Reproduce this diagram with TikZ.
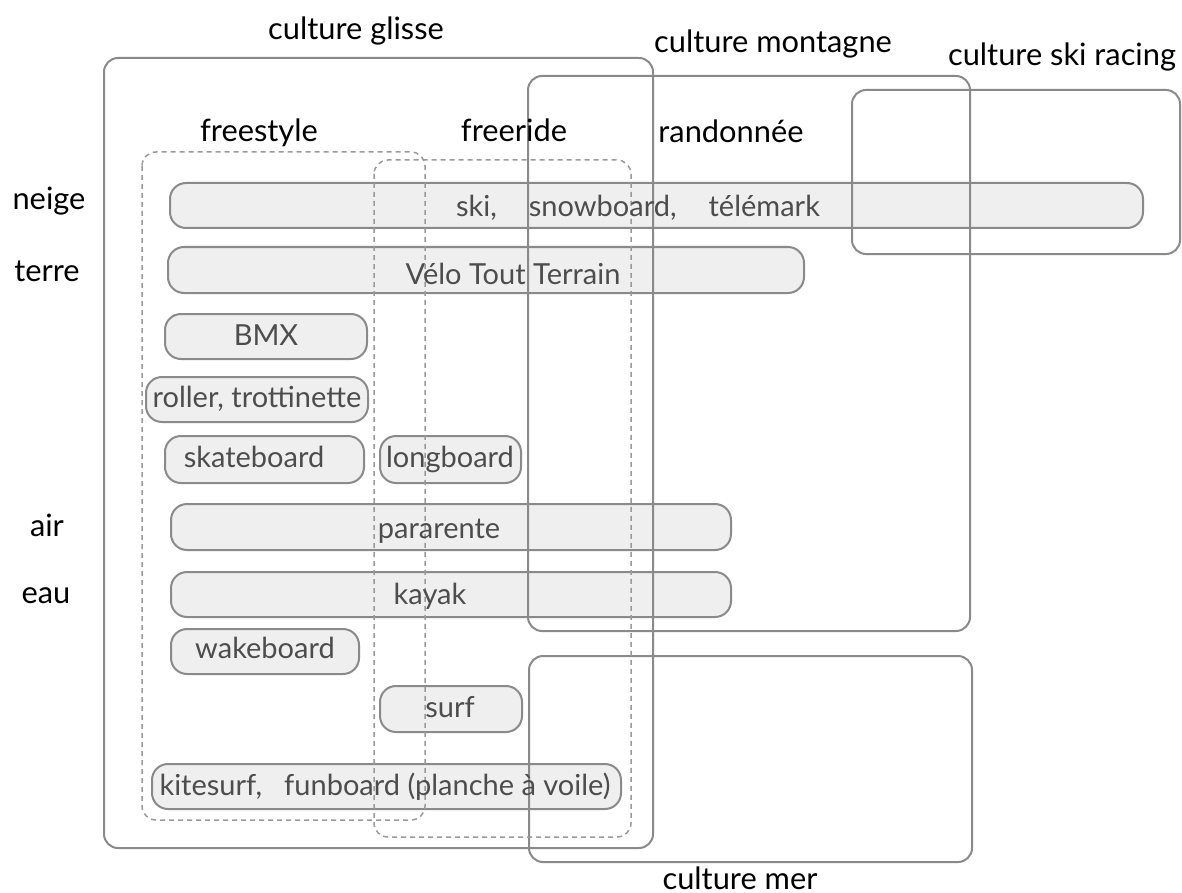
\documentclass[tikz,border=0pt]{standalone}
\usepackage{fontspec}
\setmainfont{Lato}

\definecolor{framegray}{HTML}{8A8A8A}
\definecolor{dashgray}{HTML}{9A9A9A}
\definecolor{barfill}{HTML}{EFEFEF}
\definecolor{bartext}{HTML}{4D4D4D}

\tikzset{
	culture/.style={draw=framegray, line width=1pt, rounded corners=7pt},
	family/.style={draw=dashgray, line width=0.75pt, dash pattern=on 2.5pt off 2pt, rounded corners=7pt},
	sportbar/.style={draw=framegray, fill=barfill, line width=1pt, rounded corners=8pt},
	sport/.style={anchor=base, inner sep=0pt, text=bartext, font=\fontsize{14.5}{16}\selectfont},
	title/.style={anchor=base, inner sep=0pt, font=\fontsize{15.4}{17}\selectfont},
}

\begin{document}
\begin{tikzpicture}[x=0.5pt, y=-0.5pt]
	\useasboundingbox (0,0) rectangle (1182,893);

	% activity bars
	\draw[sportbar] (170,183) rectangle (1143,228);
	\draw[sportbar] (168,247) rectangle (804,293);
	\draw[sportbar] (165,314) rectangle (367,359);
	\draw[sportbar] (146,377) rectangle (368,422);
	\draw[sportbar] (165,436) rectangle (364,483);
	\draw[sportbar] (380,436) rectangle (521,483);
	\draw[sportbar] (171,504) rectangle (731,550);
	\draw[sportbar] (171,572) rectangle (731,617);
	\draw[sportbar] (171,629) rectangle (359,674);
	\draw[sportbar] (380,686) rectangle (522,732);
	\draw[sportbar] (152,764) rectangle (621,809);

	% cultures
	\draw[culture] (104,58) rectangle (653,848);
	\draw[culture] (528,76) rectangle (970,631);
	\draw[culture] (852,90) rectangle (1180,254);
	\draw[culture] (529,656) rectangle (972,862);

	% freestyle / freeride
	\draw[family] (142,152) rectangle (425,820);
	\draw[family] (374,160) rectangle (631,837);

	% titles
	\node[title] (glisse) at (356,40) {culture glisse};
	\node[title] (montagne) at (773,53) {culture montagne};
	\node[title] (racing) at (1062,66) {culture ski racing};
	\node[title] (mer) at (740,889) {culture mer};
	\node[title] (freestyle) at (259,142) {freestyle};
	\node[title] (freeride) at (514,142) {freeride};
	\node[title] (rando) at (731,143) {randonnée};

	% elements
	\node[title] (neige) at (49,210) {neige};
	\node[title] (terre) at (47,281) {terre};
	\node[title] (air) at (47,536) {air};
	\node[title] (eau) at (46,603) {eau};

	% sports
	\node[sport] (ski) at (638,217) {ski,\hspace{16pt}snowboard,\hspace{16pt}télémark};
	\node[sport] (vtt) at (513,285) {Vélo Tout Terrain};
	\node[sport] (bmx) at (266,345) {BMX};
	\node[sport] (roller) at (257,407) {roller, trottinette};
	\node[sport] (skate) at (254,467) {skateboard};
	\node[sport] (longboard) at (450,467) {longboard};
	\node[sport] (parapente) at (439,538) {pararente};
	\node[sport] (kayak) at (430,604) {kayak};
	\node[sport] (wake) at (265,658) {wakeboard};
	\node[sport] (surf) at (450,717) {surf};
	\node[sport] (kite) at (385,795) {kitesurf,\hspace{11pt}funboard (planche à voile)};
\end{tikzpicture}
\end{document}
